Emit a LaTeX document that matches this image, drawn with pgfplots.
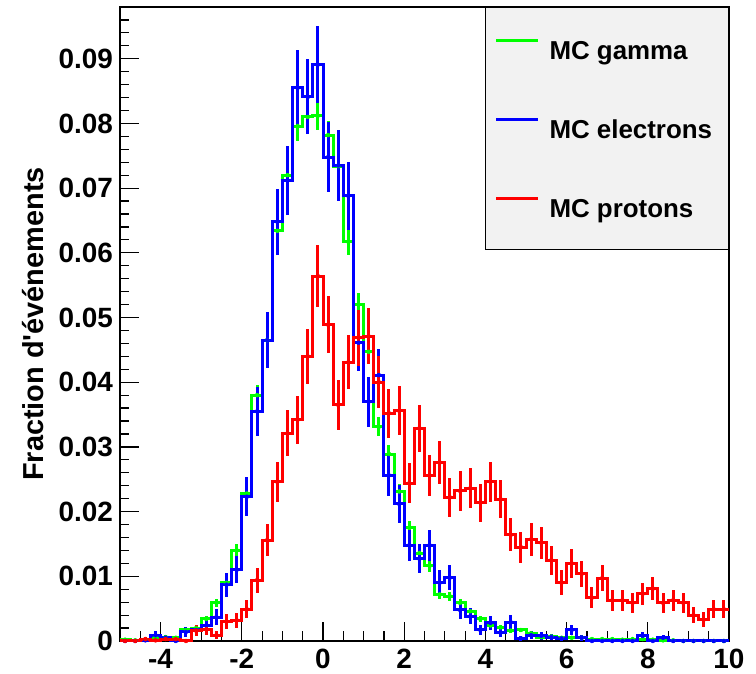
\documentclass[border=0pt]{standalone}
\usepackage{fontspec}
\setmainfont{Liberation Sans}
\usepackage{pgfplots}
\usepackage{pgfplotstable}
\pgfplotsset{compat=1.18}
\definecolor{hgreen}{RGB}{0,255,0}
\definecolor{hblue}{RGB}{0,0,255}
\definecolor{hred}{RGB}{255,0,0}
\definecolor{leggray}{RGB}{242,242,242}

% bin left edge, then value and error for gamma, electrons, protons
\pgfplotstableread{
x g ge b be r re
-5.00 0.0002 0.00011 0      0       0      0
-4.75 0.0001 0.00008 0      0       0      0
-4.50 0.0002 0.00011 0.0001 0.0002  0.0003 0.00035
-4.25 0.0006 0.0002  0.0009 0.0006  0.0001 0.0002
-4.00 0.0006 0.0002  0.0005 0.00045 0.0003 0.00035
-3.75 0.0005 0.00018 0      0       0.0003 0.00035
-3.50 0.0017 0.00033 0.0014 0.00075 0      0
-3.25 0.0020 0.00036 0.0017 0.00082 0.0016 0.0008
-3.00 0.0034 0.00047 0.0024 0.00098 0.0018 0.00085
-2.75 0.0059 0.00061 0.0037 0.00122 0.0009 0.0006
-2.50 0.0090 0.00076 0.0087 0.00187 0.0030 0.0011
-2.25 0.0140 0.00095 0.0110 0.0021  0.0032 0.00113
-2.00 0.0228 0.00121 0.0223 0.00299 0.0049 0.0014
-1.75 0.0380 0.00156 0.0355 0.00377 0.0094 0.00194
-1.50 0.0465 0.00172 0.0465 0.00431 0.0156 0.0025
-1.25 0.0634 0.00201 0.0648 0.00509 0.0246 0.00314
-1.00 0.0720 0.00215 0.0712 0.00534 0.0321 0.00358
-0.75 0.0796 0.00226 0.0855 0.00585 0.0342 0.0037
-0.50 0.0810 0.00228 0.0841 0.0058  0.0440 0.0042
-0.25 0.0812 0.00228 0.0891 0.00597 0.0564 0.00475
0.00 0.0782 0.00224 0.0748 0.00547 0.0489 0.00442
0.25 0.0734 0.00217 0.0735 0.00542 0.0365 0.00382
0.50 0.0617 0.00199 0.0688 0.00525 0.0431 0.00415
0.75 0.0520 0.00182 0.0461 0.00429 0.0469 0.00433
1.00 0.0447 0.00169 0.0370 0.00385 0.0471 0.00434
1.25 0.0331 0.00146 0.0411 0.00405 0.0400 0.004
1.50 0.0289 0.00136 0.0256 0.0032  0.0352 0.00375
1.75 0.0231 0.00122 0.0212 0.00291 0.0356 0.00377
2.00 0.0175 0.00106 0.0148 0.00243 0.0244 0.00312
2.25 0.0136 0.00093 0.0127 0.00225 0.0329 0.00363
2.50 0.0116 0.00086 0.0148 0.00243 0.0256 0.0032
2.75 0.0072 0.00068 0.0090 0.0019  0.0276 0.00332
3.00 0.0069 0.00066 0.0098 0.00198 0.0222 0.00298
3.25 0.0059 0.00061 0.0048 0.00139 0.0232 0.00305
3.50 0.0046 0.00054 0.0038 0.00123 0.0236 0.00307
3.75 0.0034 0.00047 0.0017 0.00082 0.0214 0.00293
4.00 0.0024 0.00039 0.0028 0.00106 0.0246 0.00314
4.25 0.0021 0.00037 0.0013 0.00072 0.0219 0.00296
4.50 0.0016 0.00032 0.0029 0.00108 0.0164 0.00256
4.75 0.0017 0.00033 0.0004 0.0004  0.0145 0.00241
5.00 0.0012 0.00028 0.0009 0.0006  0.0157 0.00251
5.25 0.0006 0.0002  0.0008 0.00057 0.0152 0.00247
5.50 0.0007 0.00021 0.0006 0.00049 0.0125 0.00224
5.75 0.0005 0.00018 0.0004 0.0004  0.0090 0.0019
6.00 0.0005 0.00018 0.0017 0.00082 0.0120 0.00219
6.25 0.0005 0.00018 0.0005 0.00045 0.0104 0.00204
6.50 0.0003 0.00014 0      0       0.0067 0.00164
6.75 0.0003 0.00014 0      0       0.0097 0.00197
7.00 0.0003 0.00014 0      0       0.0063 0.00159
7.25 0.0002 0.00011 0      0       0.0063 0.00159
7.50 0.0003 0.00014 0      0       0.0059 0.00154
7.75 0.0003 0.00014 0.0008 0.00057 0.0073 0.00171
8.00 0.0002 0.00011 0      0       0.0081 0.0018
8.25 0.0001 0.00008 0.0005 0.00045 0.0059 0.00154
8.50 0.0001 0.00008 0      0       0.0063 0.00159
8.75 0      0       0      0       0.0059 0.00154
9.00 0      0       0      0       0.0040 0.00126
9.25 0      0       0      0       0.0033 0.00115
9.50 0      0       0      0       0.0049 0.0014
9.75 0      0       0      0       0.0049 0.0014
10.00 0     0       0      0       0.0049 0
}\hist

\begin{document}
\begin{tikzpicture}
\begin{axis}[
  name=ax,
  scale only axis, width=609bp, height=634bp,
  xmin=-5, xmax=10, ymin=0, ymax=0.098,
  clip=false,
  xtick={-4,-2,0,2,4,6,8,10},
  minor xtick={-4.5,-4,...,10},
  ytick={0,0.01,0.02,0.03,0.04,0.05,0.06,0.07,0.08,0.09},
  minor ytick={0.002,0.004,...,0.097},
  scaled y ticks=false,
  tick align=inside, tick pos=left,
  major tick length=19bp, minor tick length=9.5bp,
  every tick/.style={black, line width=1.2bp},
  axis line style={line width=1.5bp},
  /pgf/number format/.cd, fixed, precision=2, assume math mode=true,
  /pgfplots/.cd,
  ticklabel style={font=\fontsize{28}{28}\selectfont\bfseries},
  yticklabel style={inner sep=0pt, xshift=-7bp},
  xticklabel style={inner sep=0pt, yshift=-8bp},
  ylabel={Fraction d\textquotesingle événements},
  every axis y label/.style={at={(axis description cs:0,0.5)}, xshift=-76bp, rotate=90, anchor=base,
    font=\fontsize{29}{29}\selectfont\bfseries},
  legend style={at={(1,1)}, anchor=north east, draw=black, line width=1bp, fill=leggray,
    inner xsep=9bp, inner ysep=32bp, row sep=59bp, column sep=10bp,
    font=\fontsize{26}{26}\selectfont\bfseries,
    nodes={inner sep=0pt, text height=19bp, text depth=0bp}},
  legend cell align=left,
  legend image code/.code={\draw[#1, line width=3bp] (0bp,9bp) -- (42bp,9bp);},
]
\addplot[hgreen, line width=3bp, const plot] table[x=x, y=g] {\hist};
\addlegendentry{\makebox[170bp][l]{MC gamma}}
\addplot[hgreen, forget plot, only marks, mark=none, skip coords between index={60}{61},
  error bars/.cd, y dir=both, y explicit, error mark=none,
  error bar style={line width=3bp, hgreen}]
  table[x expr=\thisrow{x}+0.125, y=g, y error=ge] {\hist};
\addplot[hblue, line width=3bp, const plot] table[x=x, y=b] {\hist};
\addlegendentry{\makebox[170bp][l]{MC electrons}}
\addplot[hblue, forget plot, only marks, mark=none, skip coords between index={60}{61},
  error bars/.cd, y dir=both, y explicit, error mark=none,
  error bar style={line width=3bp, hblue}]
  table[x expr=\thisrow{x}+0.125, y=b, y error=be] {\hist};
\addplot[hred, line width=3bp, const plot] table[x=x, y=r] {\hist};
\addlegendentry{\makebox[170bp][l]{MC protons}}
\addplot[hred, forget plot, only marks, mark=none, skip coords between index={60}{61},
  error bars/.cd, y dir=both, y explicit, error mark=none,
  error bar style={line width=3bp, hred}]
  table[x expr=\thisrow{x}+0.125, y=r, y error=re] {\hist};
\end{axis}
\pgfresetboundingbox
\path[use as bounding box] ([xshift=-120bp,yshift=-33bp]ax.south west) rectangle ([xshift=27bp,yshift=7bp]ax.north east);
\end{tikzpicture}
\end{document}
